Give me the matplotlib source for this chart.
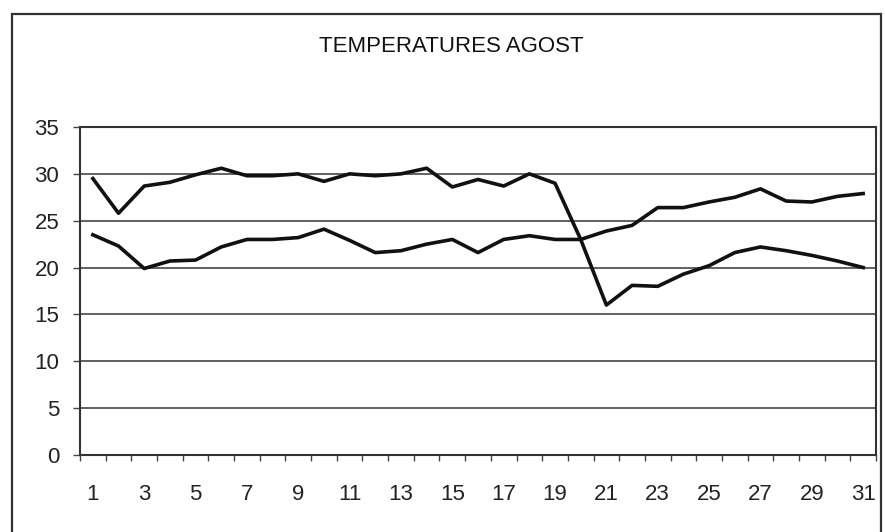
import matplotlib.pyplot as plt
import numpy as np
from matplotlib.patches import Rectangle

plt.rcParams['font.family'] = ['Liberation Sans', 'DejaVu Sans']

days = list(range(1, 32))
serie_a = [29.5, 25.8, 28.7, 29.1, 29.9, 30.6, 29.8, 29.8, 30.0, 29.2,
           30.0, 29.8, 30.0, 30.6, 28.6, 29.4, 28.7, 30.0, 29.0, 23.0,
           16.0, 18.1, 18.0, 19.3, 20.2, 21.6, 22.2, 21.8, 21.3, 20.7, 20.0]
serie_b = [23.5, 22.3, 19.9, 20.7, 20.8, 22.2, 23.0, 23.0, 23.2, 24.1,
           22.9, 21.6, 21.8, 22.5, 23.0, 21.6, 23.0, 23.4, 23.0, 23.0,
           23.9, 24.5, 26.4, 26.4, 27.0, 27.5, 28.4, 27.1, 27.0, 27.6, 27.9]
y_ticks = [0, 5, 10, 15, 20, 25, 30, 35]
title = "TEMPERATURES AGOST"

W, H = 885, 532
fig = plt.figure(figsize=(W / 100, H / 100), dpi=100)
ax = fig.add_axes([80 / W, 1 - 455 / H, (876 - 80) / W, (455 - 127) / H])

# outer chart frame (bottom edge falls off the picture)
fig.patches.append(Rectangle((12 / W, -0.1), (881 - 12) / W, 1.1 - 14 / H,
                             transform=fig.transFigure, fill=False,
                             edgecolor="#333333", linewidth=1.6))

for yv in y_ticks[1:]:
    ax.axhline(yv, color="#555555", linewidth=1.3, zorder=1)

ax.plot(days, serie_a, color="#111111", linewidth=2.6, zorder=3)
ax.plot(days, serie_b, color="#111111", linewidth=2.6, zorder=3)

ax.set_xlim(0.5, 31.5)
ax.set_ylim(0, 35)
ax.set_yticks(y_ticks)
ax.set_xticks(days[::2])
ax.set_xticks(np.arange(0.5, 32, 1), minor=True)
ax.tick_params(axis="x", which="major", length=0, pad=21, labelsize=16,
               labelcolor="#222222")
ax.tick_params(axis="x", which="minor", length=4.5, width=1, color="#444444",
               direction="out")
ax.tick_params(axis="y", length=5, width=1, color="#444444", pad=10,
               labelsize=16, labelcolor="#222222")

for side in ["left", "bottom", "right", "top"]:
    ax.spines[side].set_color("#333333")
    ax.spines[side].set_linewidth(1.5)

fig.text(451 / W, 1 - 47 / H, title, ha="center", va="center", fontsize=16,
         color="#111111")

plt.savefig("out.png", dpi=100)
